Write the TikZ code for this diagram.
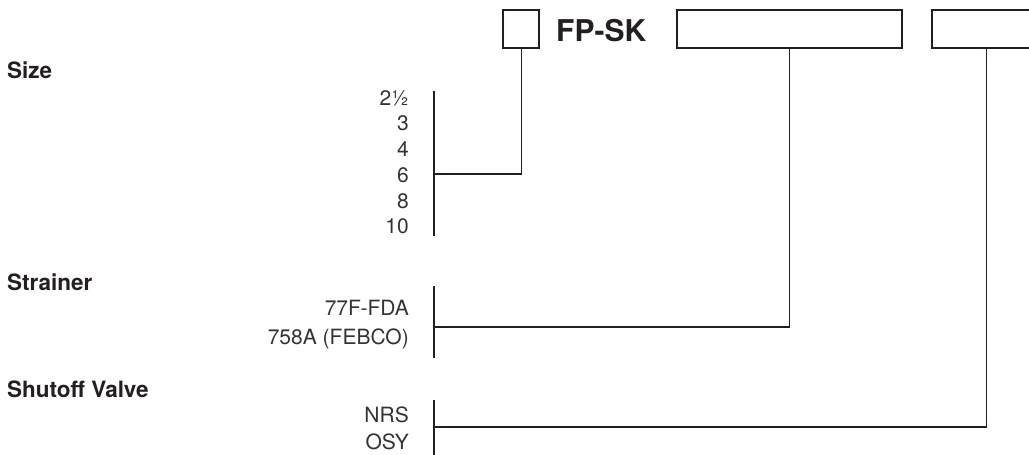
\documentclass[tikz,border=0pt]{standalone}
\usepackage{fontspec}
\setmainfont{TeX Gyre Heros}
\definecolor{ink}{HTML}{231F20}
\definecolor{txt}{HTML}{333333}
\tikzset{
  codebox/.style={draw=ink, line width=2.4pt, inner sep=0pt, anchor=north west},
  title/.style={font=\fontsize{22.5}{26}\selectfont\bfseries, text=ink, anchor=base west, inner sep=0pt},
  opt/.style={font=\fontsize{21}{25}\selectfont, text=txt, anchor=base east, inner sep=0pt},
  link/.style={draw=ink, line width=1.2pt},
}
\begin{document}
\begin{tikzpicture}[x=1pt,y=-1pt]
\useasboundingbox (0,0) rectangle (1029,455);
% code boxes
\node[codebox, minimum width=36pt, minimum height=38pt] (bsize) at (502,9) {};
\node[font=\fontsize{30}{34}\selectfont\bfseries, text=ink, anchor=base west, inner sep=0pt] (code) at (556,41) {FP-SK};
\node[codebox, minimum width=225pt, minimum height=38pt] (bstr) at (676,9) {};
\node[codebox, minimum width=108pt, minimum height=38pt] (bval) at (931,9) {};
% titles
\node[title] (tsize) at (7,78) {Size};
\node[title] (tstr) at (7,290) {Strainer};
\node[title] (tval) at (7,397) {Shutoff Valve};
% size options
\node[opt] (s1) at (409,105.5) {2½};
\node[opt] (s2) at (409,130.5) {3};
\node[opt] (s3) at (409,156.5) {4};
\node[opt] (s4) at (409,182.5) {6};
\node[opt] (s5) at (409,208.5) {8};
\node[opt] (s6) at (409,233.5) {10};
% strainer options
\node[opt] (r1) at (409,315.5) {77F-FDA};
\node[opt] (r2) at (409,344.5) {758A (FEBCO)};
% valve options
\node[opt] (v1) at (409,422.5) {NRS};
\node[opt] (v2) at (409,449.5) {OSY};
% brackets
\coordinate (sizeTop) at (434,91);
\coordinate (sizeBot) at (434,236);
\coordinate (sizeJ) at (434,174);
\coordinate (strTop) at (434,286);
\coordinate (strBot) at (434,358);
\coordinate (strJ) at (434,327);
\coordinate (valTop) at (434,400);
\coordinate (valBot) at (434,456);
\coordinate (valJ) at (434,427);
\draw[link] (sizeTop) -- (sizeBot);
\draw[link] (strTop) -- (strBot);
\draw[link] (valTop) -- (valBot);
% connectors
\draw[link] (bsize.south) |- (sizeJ);
\draw[link] (bstr.south) |- (strJ);
\draw[link] (bval.south) |- (valJ);
\end{tikzpicture}
\end{document}
